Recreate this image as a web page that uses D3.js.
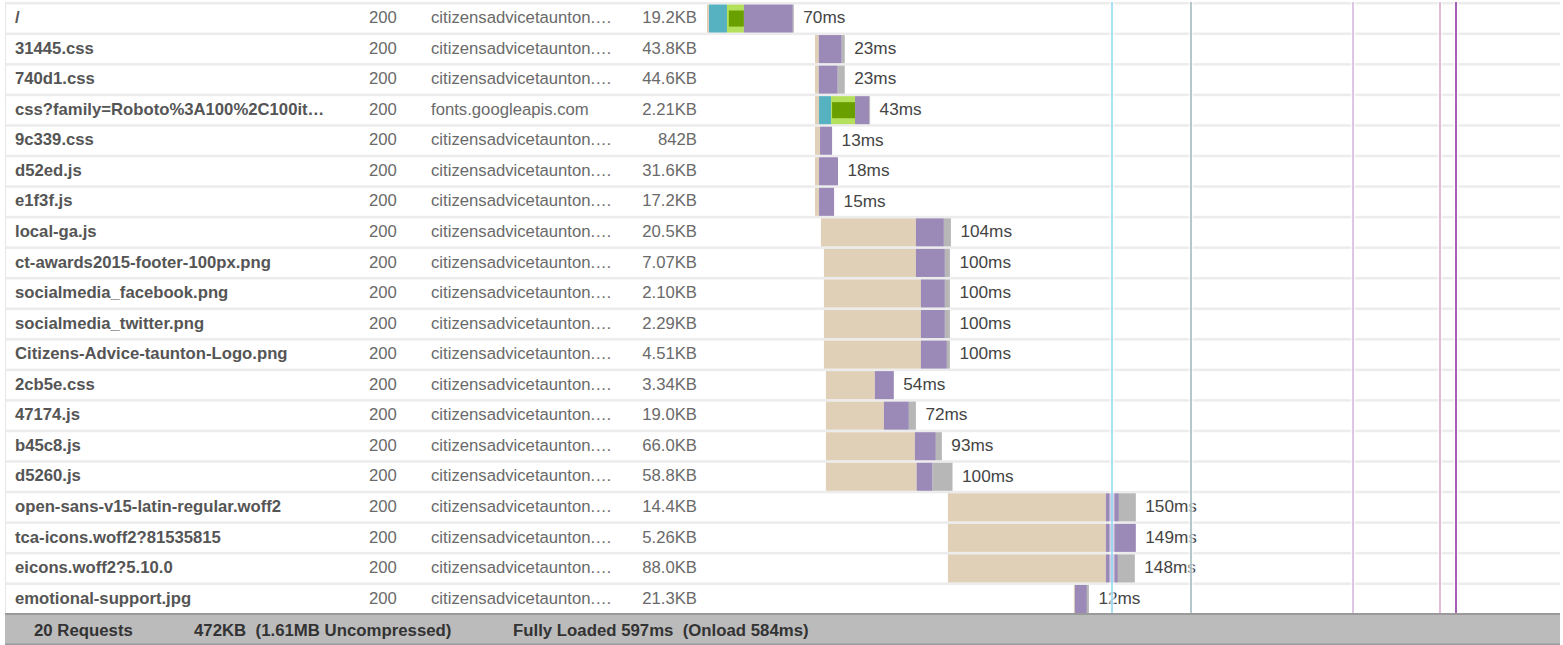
<!DOCTYPE html>
<html>
<head>
<meta charset="utf-8">
<script src="https://cdn.jsdelivr.net/npm/d3@7"></script>
<style>
  body { margin: 0; background: #fff; }
  svg { display: block; font-family: "Liberation Sans", Arial, sans-serif; }
</style>
</head>
<body>
<svg id="waterfall" width="1563" height="645"></svg>
<script>
// request rows
const names = ["/", "31445.css", "740d1.css", "css?family=Roboto%3A100%2C100it\u2026", "9c339.css",
  "d52ed.js", "e1f3f.js", "local-ga.js", "ct-awards2015-footer-100px.png", "socialmedia_facebook.png",
  "socialmedia_twitter.png", "Citizens-Advice-taunton-Logo.png", "2cb5e.css", "47174.js", "b45c8.js",
  "d5260.js", "open-sans-v15-latin-regular.woff2", "tca-icons.woff2?81535815", "eicons.woff2?5.10.0",
  "emotional-support.jpg"];
const statuses = ["200", "200", "200", "200", "200", "200", "200", "200", "200", "200",
  "200", "200", "200", "200", "200", "200", "200", "200", "200", "200"];
const hosts = ["citizensadvicetaunton.\u2026", "citizensadvicetaunton.\u2026", "citizensadvicetaunton.\u2026",
  "fonts.googleapis.com", "citizensadvicetaunton.\u2026", "citizensadvicetaunton.\u2026",
  "citizensadvicetaunton.\u2026", "citizensadvicetaunton.\u2026", "citizensadvicetaunton.\u2026",
  "citizensadvicetaunton.\u2026", "citizensadvicetaunton.\u2026", "citizensadvicetaunton.\u2026",
  "citizensadvicetaunton.\u2026", "citizensadvicetaunton.\u2026", "citizensadvicetaunton.\u2026",
  "citizensadvicetaunton.\u2026", "citizensadvicetaunton.\u2026", "citizensadvicetaunton.\u2026",
  "citizensadvicetaunton.\u2026", "citizensadvicetaunton.\u2026"];
const sizes = ["19.2KB", "43.8KB", "44.6KB", "2.21KB", "842B", "31.6KB", "17.2KB", "20.5KB", "7.07KB",
  "2.10KB", "2.29KB", "4.51KB", "3.34KB", "19.0KB", "66.0KB", "58.8KB", "14.4KB", "5.26KB", "88.0KB", "21.3KB"];

// timings in ms
const starts    = [0, 86.1, 86.1, 86.1, 86.1, 86.1, 86.1, 90.8, 93.2, 93.2, 93.2, 93.2, 94.8, 94.8, 94.8, 94.8, 192, 192, 192, 292.4];
const waits     = [1.6, 3, 3, 3.2, 4, 3.2, 3.2, 75.7, 73.3, 77.3, 77.3, 77.3, 39, 46.2, 70.9, 72.3, 125.9, 125.9, 125.9, 0.8];
const dnsTimes  = [14.3, 0, 0, 9.6, 0, 0, 0, 0, 0, 0, 0, 0, 0, 0, 0, 0, 0, 0, 0, 0];
const connects  = [13.5, 0, 0, 19.1, 0, 0, 0, 0, 0, 0, 0, 0, 0, 0, 0, 0, 0, 0, 0, 0];
const ssls      = [12, 0, 0, 18.3, 0, 0, 0, 0, 0, 0, 0, 0, 0, 0, 0, 0, 0, 0, 0, 0];
const ttfbs     = [39, 18.3, 15.1, 11.2, 9.6, 15.1, 12, 22.3, 23.1, 19.1, 19.1, 20.7, 15.1, 19.9, 16.7, 12.7, 10.4, 23.9, 9.6, 9.6];
const downloads = [0.8, 2.4, 5.6, 0.8, 0, 0, 0, 5.6, 4, 4, 4, 2.4, 0, 5.6, 4.8, 15.9, 13.5, 0, 13.5, 1.6];
const durations = ["70ms", "23ms", "23ms", "43ms", "13ms", "18ms", "15ms", "104ms", "100ms", "100ms",
  "100ms", "100ms", "54ms", "72ms", "93ms", "100ms", "150ms", "149ms", "148ms", "12ms"];

// page events (ms)
const markerTimes = [322.7, 385.7, 514.7, 584, 597];
const markerColors = ["#8dd7f5", "#9db7bb", "#d5b3dd", "#d8a6cd", "#a660b6"];

const summary = ["20 Requests", "472KB  (1.61MB Uncompressed)", "Fully Loaded 597ms  (Onload 584ms)"];

const svg = d3.select("#waterfall");
const tableLeft = 5, tableRight = 1560, footerTop = 613;

const x = d3.scaleLinear().domain([0, 597]).range([707, 1456]);
const y = d3.scaleBand().domain(d3.range(names.length)).range([2, footerTop]);
const sepH = 2.5;

// row separators + left border
svg.append("g")
  .selectAll("rect")
  .data(names)
  .join("rect")
  .attr("x", tableLeft)
  .attr("y", (d, i) => y(i))
  .attr("width", tableRight - tableLeft)
  .attr("height", sepH)
  .attr("fill", "#ececec");

svg.append("line")
  .attr("x1", tableLeft + 0.5).attr("x2", tableLeft + 0.5)
  .attr("y1", y(0)).attr("y2", footerTop)
  .attr("stroke", "#e6e6e6").attr("stroke-width", 1);

// table columns
const cols = svg.append("g").style("font-size", "16.7px");
const rowMid = (i) => y(i) + sepH + (y.bandwidth() - sepH) / 2 - 1.2;

cols.selectAll(".name")
  .data(names)
  .join("text")
  .attr("class", "name")
  .attr("x", 15)
  .attr("y", (d, i) => rowMid(i))
  .attr("dy", "0.35em")
  .attr("fill", "#555")
  .style("font-weight", "bold")
  .text((d) => d);

cols.selectAll(".status")
  .data(statuses)
  .join("text")
  .attr("class", "status")
  .attr("x", 369)
  .attr("y", (d, i) => rowMid(i))
  .attr("dy", "0.35em")
  .attr("fill", "#6a6a6a")
  .text((d) => d);

cols.selectAll(".host")
  .data(hosts)
  .join("text")
  .attr("class", "host")
  .attr("x", 431)
  .attr("y", (d, i) => rowMid(i))
  .attr("dy", "0.35em")
  .attr("fill", "#6a6a6a")
  .text((d) => d);

cols.selectAll(".size")
  .data(sizes)
  .join("text")
  .attr("class", "size")
  .attr("x", 697)
  .attr("y", (d, i) => rowMid(i))
  .attr("dy", "0.35em")
  .attr("text-anchor", "end")
  .attr("fill", "#6a6a6a")
  .text((d) => d);

// waterfall bars
const phaseColors = { wait: "#e0d0b8", dns: "#56b1c1", connect: "#b4e05c", ttfb: "#9b89b7", download: "#b7b7b7" };
const segs = [];
names.forEach((n, i) => {
  let t = starts[i];
  const parts = [["wait", waits[i]], ["dns", dnsTimes[i]], ["connect", connects[i]], ["ttfb", ttfbs[i]], ["download", downloads[i]]];
  parts.forEach(([k, v]) => {
    if (v > 0) segs.push({ row: i, kind: k, t0: t, t1: t + v });
    if (k == "connect" && ssls[i] > 0) segs.push({ row: i, kind: "ssl", t0: t + v - ssls[i], t1: t + v });
    t += v;
  });
});

const barTop = (i) => y(i) + sepH;
const barH = y.bandwidth() - sepH;

svg.append("g")
  .selectAll("rect")
  .data(segs)
  .join("rect")
  .attr("x", (d) => x(d.t0))
  .attr("width", (d) => x(d.t1) - x(d.t0))
  .attr("y", (d) => d.kind == "ssl" ? barTop(d.row) + 6 : barTop(d.row))
  .attr("height", (d) => d.kind == "ssl" ? barH - 12 : barH)
  .attr("fill", (d) => d.kind == "ssl" ? "#6a9f00" : phaseColors[d.kind]);

// duration labels
const ends = names.map((n, i) => starts[i] + waits[i] + dnsTimes[i] + connects[i] + ttfbs[i] + downloads[i]);
svg.append("g")
  .selectAll("text")
  .data(durations)
  .join("text")
  .attr("x", (d, i) => x(ends[i]) + 9.5)
  .attr("y", (d, i) => rowMid(i))
  .attr("dy", "0.35em")
  .attr("fill", "#444")
  .style("font-size", "17.2px")
  .text((d) => d);

// event markers
const markers = svg.append("g");
markers.selectAll(".halo")
  .data(markerTimes)
  .join("rect")
  .attr("class", "halo")
  .attr("x", (d) => Math.round(x(d)) - 2.5)
  .attr("width", 5)
  .attr("y", y(0))
  .attr("height", footerTop - y(0))
  .attr("fill", "#fff")
  .attr("opacity", 0.6);
markers.selectAll(".mark")
  .data(markerTimes)
  .join("line")
  .attr("class", "mark")
  .attr("x1", (d) => Math.round(x(d)))
  .attr("x2", (d) => Math.round(x(d)))
  .attr("y1", y(0))
  .attr("y2", footerTop)
  .attr("stroke", (d, i) => markerColors[i])
  .attr("stroke-width", (d, i) => i == 4 ? 2 : 1.5);

// footer summary
const footer = svg.append("g");
footer.append("rect")
  .attr("x", tableLeft).attr("y", footerTop)
  .attr("width", tableRight - tableLeft).attr("height", 31)
  .attr("fill", "#bbbbbb");
footer.append("rect")
  .attr("x", tableLeft).attr("y", footerTop)
  .attr("width", tableRight - tableLeft).attr("height", 2)
  .attr("fill", "#9a9a9a");
footer.append("rect")
  .attr("x", tableLeft).attr("y", 643.5)
  .attr("width", tableRight - tableLeft).attr("height", 1.5)
  .attr("fill", "#9a9a9a");
footer.selectAll("text")
  .data(summary)
  .join("text")
  .attr("x", (d, i) => [34, 194, 513][i])
  .attr("y", 630)
  .attr("dy", "0.35em")
  .attr("fill", "#333")
  .style("font-size", "16.8px")
  .style("font-weight", "bold")
  .style("white-space", "pre")
  .text((d) => d);
</script>
</body>
</html>
